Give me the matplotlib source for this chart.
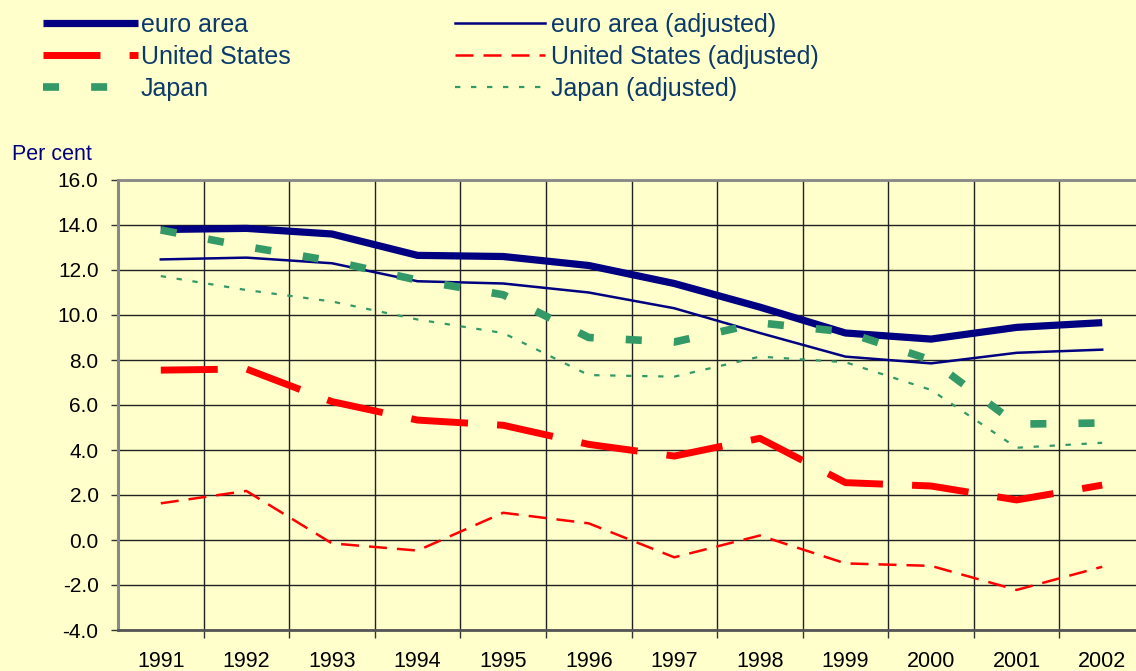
import matplotlib
matplotlib.use("Agg")
import matplotlib.pyplot as plt
from matplotlib.ticker import MultipleLocator, FixedLocator

plt.rcParams['font.family'] = ['Liberation Sans', 'DejaVu Sans']

# Data
years = ["1991", "1992", "1993", "1994", "1995", "1996",
         "1997", "1998", "1999", "2000", "2001", "2002"]
euro = [13.8, 13.85, 13.6, 12.65, 12.6, 12.2, 11.4, 10.35, 9.2, 8.93, 9.45, 9.66]
euro_adj = [12.47, 12.55, 12.3, 11.5, 11.4, 11.0, 10.3, 9.2, 8.15, 7.85, 8.32, 8.46]
us = [7.55, 7.6, 6.15, 5.33, 5.1, 4.25, 3.73, 4.52, 2.55, 2.4, 1.78, 2.44]
us_adj = [1.63, 2.18, -0.15, -0.47, 1.21, 0.74, -0.77, 0.2, -1.04, -1.15, -2.22, -1.19]
japan = [13.78, 13.04, 12.4, 11.55, 10.9, 9.0, 8.8, 9.65, 9.25, 8.0, 5.15, 5.2]
japan_adj = [11.73, 11.11, 10.6, 9.8, 9.2, 7.33, 7.26, 8.15, 7.9, 6.67, 4.1, 4.32]

bg = "#FFFFCC"
navy = "#000080"
red = "#FF0000"
green = "#339966"
text_col = "#0B3A6A"

fig = plt.figure(figsize=(11.36, 6.71), dpi=100, facecolor=bg)
ax = fig.add_axes([118 / 1136, 41 / 671, 1027 / 1136, 450 / 671])
ax.set_facecolor(bg)

x = list(range(len(years)))

l1, = ax.plot(x, euro, color=navy, lw=5.2, solid_capstyle="butt", zorder=4, label="euro area")
l2, = ax.plot(x, us, color=red, lw=5.0, dashes=(8.2, 4.2), dash_capstyle="butt", zorder=4,
              label="United States")
l3, = ax.plot(x, japan, color=green, lw=5.5, dashes=(2.1, 4.2), dash_capstyle="butt", zorder=5,
              label="Japan")
l4, = ax.plot(x, euro_adj, color=navy, lw=1.8, zorder=3, label="euro area (adjusted)")
l5, = ax.plot(x, us_adj, color=red, lw=1.8, dashes=(7.2, 4.0), dash_capstyle="butt", zorder=3,
              label="United States (adjusted)")
l6, = ax.plot(x, japan_adj, color=green, lw=1.6, dashes=(2.4, 4.8), dash_capstyle="butt", zorder=3,
              label="Japan (adjusted)")

ax.set_xlim(-0.5, len(years) - 0.5)
ax.set_ylim(-4, 16)
ax.yaxis.set_major_locator(MultipleLocator(2))
ax.set_yticklabels([f"{v:.1f}" for v in ax.get_yticks()])
ax.set_xticks(x)
ax.set_xticklabels(years)
ax.xaxis.set_minor_locator(FixedLocator([i + 0.5 for i in range(len(years) - 1)]))

ax.grid(True, axis="y", color="#222222", lw=1.0, zorder=1)
ax.grid(True, axis="x", which="minor", color="#222222", lw=1.0, zorder=1)

ax.tick_params(axis="x", which="major", length=0, pad=15, labelsize=15.5, colors="black")
ax.tick_params(axis="x", which="minor", length=6, width=1.0, direction="out", color="#333333")
ax.tick_params(axis="y", length=5, width=1.0, direction="out", pad=9, labelsize=15,
               colors="black", color="#333333")

for side in ["left", "top", "bottom"]:
    ax.spines[side].set_color("#888888")
ax.spines["left"].set_linewidth(2.2)
ax.spines["top"].set_linewidth(2.0)
ax.spines["bottom"].set_linewidth(2.0)
ax.spines["bottom"].set_color("#555555")
ax.spines["right"].set_visible(False)

fig.text(12 / 1136, 1 - 154 / 671, "Per cent", color=navy, fontsize=15.5, va="center", ha="left")

# two separate legend columns, placed like the original
leg1 = fig.legend(handles=[l1, l2, l3], loc="upper left",
                  bbox_to_anchor=(43 / 1136, 1 - 13 / 671), frameon=False, fontsize=18,
                  borderpad=0, borderaxespad=0, handlelength=3.8, handletextpad=0.12,
                  labelspacing=0.32)
leg2 = fig.legend(handles=[l4, l5, l6], loc="upper left",
                  bbox_to_anchor=(455 / 1136, 1 - 13 / 671), frameon=False, fontsize=18,
                  borderpad=0, borderaxespad=0, handlelength=3.6, handletextpad=0.24,
                  labelspacing=0.32)
for leg in (leg1, leg2):
    for t in leg.get_texts():
        t.set_color(text_col)

fig.savefig("out.png", dpi=100, facecolor=bg)
